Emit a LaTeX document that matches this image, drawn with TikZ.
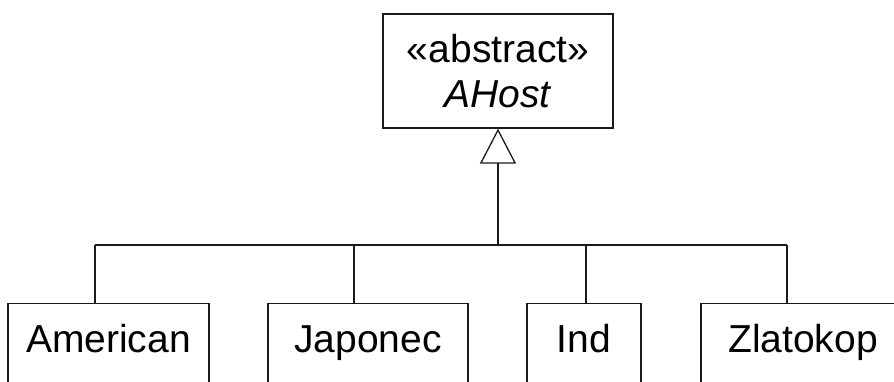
\documentclass[tikz,border=0pt]{standalone}
\usepackage{fontspec}
\setmainfont{Liberation Sans}
\usepackage{tikz}
\usetikzlibrary{arrows.meta,positioning}
\definecolor{umlline}{HTML}{1A1A1A}

\begin{document}
\begin{tikzpicture}[x=0.5pt,y=-0.5pt,
    every node/.style={font=\fontsize{19.5pt}{22.5pt}\selectfont},
    classbox/.style={draw=umlline, line width=0.65pt, inner sep=0pt},
    subclass/.style={classbox, anchor=north, text height=24.5pt, text depth=70pt},
    inherit/.style={umlline, line width=0.65pt, -{Triangle[open, length=17.5pt, width=18pt]}},
    branch/.style={umlline, line width=0.65pt}]
    \useasboundingbox (0,0) rectangle (894,381);
    \clip (0,0) rectangle (894,381);

    \node[classbox, minimum width=115pt, minimum height=57pt, align=center] (AHost) at (498,71)
        {«abstract»\\\textit{AHost}};

    \node[subclass, minimum width=100.5pt] (American) at (108.5,303) {American};
    \node[subclass, minimum width=100pt] (Japonec) at (368,303) {Japonec};
    \node[subclass, minimum width=57pt] (Ind) at (584,303) {Ind};
    \node[subclass, minimum width=102pt] (Zlatokop) at (803,303) {Zlatokop};

    \coordinate (bus) at (498,245);
    \coordinate (jA) at (95,245);
    \coordinate (jJ) at (354,245);
    \coordinate (jI) at (586,245);
    \coordinate (jZ) at (787,245);

    \draw[inherit] (bus) -- (AHost);
    \draw[branch] (jA) -- (jZ);
    \foreach \c/\j in {American/jA, Japonec/jJ, Ind/jI, Zlatokop/jZ} {
        \draw[branch] (\j) -- (\j |- \c.north);
    }
\end{tikzpicture}
\end{document}
